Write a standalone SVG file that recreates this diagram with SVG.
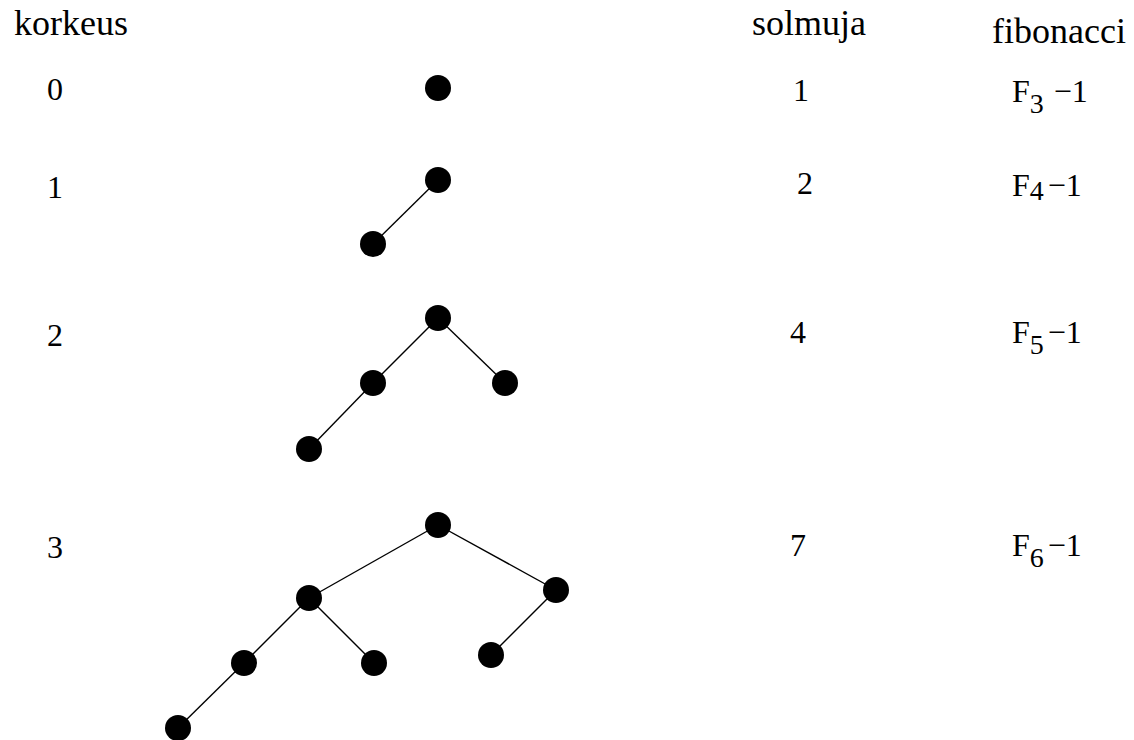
<svg xmlns="http://www.w3.org/2000/svg" width="1134" height="740" viewBox="0 0 1134 740" font-family="'Liberation Serif', 'Times New Roman', serif">
<style>
text{font-family:"Liberation Serif","Times New Roman",serif;fill:#000}
.h{font-size:36px}
.n{font-size:32px}
.s{font-size:28px}
line{stroke:#000;stroke-width:1.4}
circle{fill:#000}
</style>
<rect width="1134" height="740" fill="#fff"/>
<g id="headers">
<text class="h" x="14" y="35">korkeus</text>
<text class="h" x="752" y="35">solmuja</text>
<text class="h" x="992" y="43">fibonacci</text>
</g>
<g id="labels">
<text class="n" x="47" y="100">0</text>
<text class="n" x="47" y="198">1</text>
<text class="n" x="47" y="346">2</text>
<text class="n" x="47" y="558">3</text>
<text class="n" x="793" y="101">1</text>
<text class="n" x="797" y="194">2</text>
<text class="n" x="790" y="343">4</text>
<text class="n" x="790" y="556">7</text>
<text class="n" x="1012" y="102">F<tspan class="s" dy="11">3</tspan><tspan dy="-11" dx="10">−1</tspan></text>
<text class="n" x="1012" y="196">F<tspan class="s" dy="4">4</tspan><tspan dy="-4" dx="4">−1</tspan></text>
<text class="n" x="1012" y="343">F<tspan class="s" dy="11">5</tspan><tspan dy="-11" dx="4">−1</tspan></text>
<text class="n" x="1012" y="556">F<tspan class="s" dy="11">6</tspan><tspan dy="-11" dx="4">−1</tspan></text>
</g>
<g id="connectors">
<line x1="438" y1="180" x2="373" y2="244"/>
<line x1="438" y1="318" x2="373" y2="383"/>
<line x1="438" y1="318" x2="505" y2="383"/>
<line x1="373" y1="383" x2="309" y2="449"/>
<line x1="438" y1="525" x2="309" y2="598"/>
<line x1="438" y1="525" x2="556" y2="590"/>
<line x1="309" y1="598" x2="244" y2="663"/>
<line x1="309" y1="598" x2="374" y2="663"/>
<line x1="556" y1="590" x2="491" y2="655"/>
<line x1="244" y1="663" x2="178" y2="728"/>
</g>
<g id="tree0"><circle id="t0n1" cx="438" cy="88" r="13"/></g>
<g id="tree1">
<circle id="t1n1" cx="438" cy="180" r="13"/>
<circle id="t1n2" cx="373" cy="244" r="13"/>
</g>
<g id="tree2">
<circle id="t2n1" cx="438" cy="318" r="13"/>
<circle id="t2n2" cx="373" cy="383" r="13"/>
<circle id="t2n3" cx="505" cy="383" r="13"/>
<circle id="t2n4" cx="309" cy="449" r="13"/>
</g>
<g id="tree3">
<circle id="t3n1" cx="438" cy="525" r="13"/>
<circle id="t3n2" cx="309" cy="598" r="13"/>
<circle id="t3n3" cx="556" cy="590" r="13"/>
<circle id="t3n4" cx="244" cy="663" r="13"/>
<circle id="t3n5" cx="374" cy="663" r="13"/>
<circle id="t3n6" cx="491" cy="655" r="13"/>
<circle id="t3n7" cx="178" cy="728" r="13"/>
</g>
</svg>
